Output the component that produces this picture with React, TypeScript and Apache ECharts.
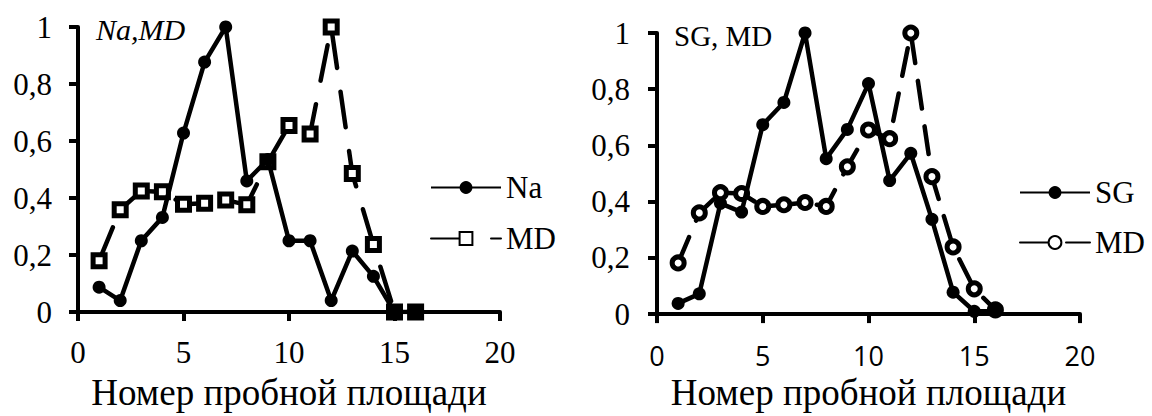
import React, { useEffect, useRef } from "react";
import * as echarts from "echarts";

// ---- data ----
const plotNumbers = [1, 2, 3, 4, 5, 6, 7, 8, 9, 10, 11, 12, 13, 14, 15, 16];
const naValues = [0.087, 0.04, 0.25, 0.332, 0.628, 0.877, 1.0, 0.46, 0.535, 0.25, 0.25, 0.04, 0.214, 0.125, 0, 0];
const mdLeftValues = [0.18, 0.359, 0.425, 0.422, 0.378, 0.382, 0.393, 0.376, 0.527, 0.654, 0.625, 1.0, 0.486, 0.237, 0, 0];
const sgValues = [0.038, 0.072, 0.394, 0.363, 0.674, 0.753, 1.0, 0.553, 0.657, 0.82, 0.475, 0.572, 0.337, 0.078, 0.01, 0.01];
const mdRightValues = [0.182, 0.36, 0.432, 0.429, 0.383, 0.389, 0.397, 0.383, 0.524, 0.655, 0.624, 1.0, 0.489, 0.239, 0.09, 0.015];

const xMin = 0;
const xMax = 20;
const xStep = 5;
const yMin = 0;
const yMax = 1;
const yStep = 0.2;

const leftTitle = "Na,MD";
const rightTitle = "SG, MD";
const xAxisName = "Номер пробной площади";
const leftLegend = ["Na", "MD"];
const rightLegend = ["SG", "MD "];

const pairs = (ys: number[]) => plotNumbers.map((x, i) => [x, ys[i]]);

const SERIF = "Liberation Serif";
const SANS = "Open Sans";

export default function App() {
  const ref = useRef<HTMLDivElement>(null);

  useEffect(() => {
    if (!ref.current) return;
    const chart = echarts.init(ref.current, undefined, { renderer: "svg" });

    const yFormatter = (v: number) => String(+v.toFixed(1)).replace(".", ",");

    const makeX = (gridIndex: number, labelFont: string, labelSize: number, margin: number, nameGap: number) => ({
      type: "value",
      gridIndex,
      min: xMin,
      max: xMax,
      interval: xStep,
      axisLine: { show: true, lineStyle: { color: "#000", width: 4 } },
      axisTick: { show: true, length: 9, lineStyle: { color: "#000", width: 4 } },
      splitLine: { show: false },
      axisLabel: { color: "#000", fontFamily: labelFont, fontSize: labelSize, margin },
      name: xAxisName,
      nameLocation: "middle",
      nameGap,
      nameTextStyle: { color: "#000", fontFamily: SERIF, fontSize: 37 },
    });

    const makeY = (gridIndex: number, margin: number) => ({
      type: "value",
      gridIndex,
      min: yMin,
      max: yMax,
      interval: yStep,
      axisLine: { show: true, lineStyle: { color: "#000", width: 4 } },
      axisTick: { show: true, length: 9, lineStyle: { color: "#000", width: 4 } },
      splitLine: { show: false },
      axisLabel: { color: "#000", fontFamily: SERIF, fontSize: 31, margin, formatter: yFormatter },
    });

    const option: any = {
      animation: false,
      backgroundColor: "#fff",
      title: [
        {
          text: leftTitle,
          left: 96,
          top: 14,
          padding: 0,
          textStyle: { fontFamily: SERIF, fontStyle: "italic", fontWeight: "normal", fontSize: 30, color: "#000" },
        },
        {
          text: rightTitle,
          left: 674,
          top: 21,
          padding: 0,
          textStyle: { fontFamily: SERIF, fontWeight: "normal", fontSize: 29, color: "#000" },
        },
      ],
      legend: [
        {
          data: leftLegend,
          orient: "vertical",
          left: 430,
          top: 172,
          padding: 0,
          itemWidth: 70,
          itemHeight: 16,
          itemGap: 20,
          selectedMode: false,
          textStyle: { fontFamily: SERIF, fontSize: 31, color: "#000", lineHeight: 30 },
        },
        {
          data: rightLegend,
          orient: "vertical",
          left: 1019,
          top: 177,
          padding: 0,
          itemWidth: 70,
          itemHeight: 16,
          itemGap: 19,
          selectedMode: false,
          formatter: (name: string) => name.trim(),
          textStyle: { fontFamily: SERIF, fontSize: 31, color: "#000", lineHeight: 30 },
        },
      ],
      grid: [
        { left: 78, top: 27, width: 422, height: 288 },
        { left: 657, top: 33, width: 423, height: 290 },
      ],
      xAxis: [makeX(0, SERIF, 31, 25, 62), makeX(1, SANS, 27, 28, 49)],
      yAxis: [makeY(0, 26), makeY(1, 27)],
      series: [
        {
          name: leftLegend[0],
          type: "line",
          xAxisIndex: 0,
          yAxisIndex: 0,
          z: 4,
          data: pairs(naValues),
          symbol: "circle",
          symbolSize: 13,
          lineStyle: { color: "#000", width: 4.5 },
          itemStyle: { color: "#000" },
        },
        {
          name: leftLegend[1],
          type: "line",
          xAxisIndex: 0,
          yAxisIndex: 0,
          z: 3,
          data: pairs(mdLeftValues),
          symbol: "rect",
          symbolSize: 12,
          lineStyle: { color: "#000", width: 4.5, type: [36, 24], cap: "round" },
          itemStyle: { color: "#fff", borderColor: "#000", borderWidth: 5 },
        },
        {
          name: rightLegend[0],
          type: "line",
          xAxisIndex: 1,
          yAxisIndex: 1,
          z: 4,
          data: pairs(sgValues),
          symbol: "circle",
          symbolSize: 13,
          lineStyle: { color: "#000", width: 4.5 },
          itemStyle: { color: "#000" },
        },
        {
          name: rightLegend[1],
          type: "line",
          xAxisIndex: 1,
          yAxisIndex: 1,
          z: 3,
          data: pairs(mdRightValues),
          symbol: "circle",
          symbolSize: 12,
          lineStyle: { color: "#000", width: 4.5, type: [28, 18], cap: "round" },
          itemStyle: { color: "#fff", borderColor: "#000", borderWidth: 5 },
        },
      ],
    };

    chart.setOption(option);
    return () => chart.dispose();
  }, []);

  return (
    <div
      ref={ref}
      style={{ position: "absolute", left: 0, top: 0, width: 1152, height: 416, background: "#fff" }}
    />
  );
}
